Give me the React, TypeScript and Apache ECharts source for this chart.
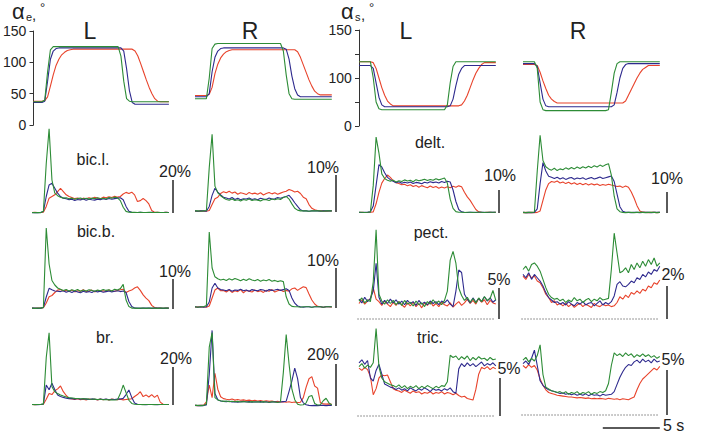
import React, { useEffect, useRef } from 'react';
import * as echarts from 'echarts';

// time samples (s) shared by every panel
const T = [0,0.25,0.5,0.75,1,1.25,1.5,1.75,2,2.25,2.5,2.75,3,3.25,3.5,3.75,4,4.25,4.5,4.75,5,5.25,5.5,5.75,6,6.25,6.5,6.75,7,7.25,7.5,7.75,8,8.25,8.5,8.75,9,9.25,9.5,9.75,10,10.25,10.5,10.75,11,11.25,11.5,11.75,12];

// ---- joint angles (deg) ----
const AE_L_RED = [38,38,38,38,39,45,62,80,95,105,112,116,119,120,
121,121,121,121,121,121,121,121,121,121,121,121,121,121,121,121,121,121,121,121,121,121,
118,110,98,85,72,60,50,42,38,37,37,37,37];
const AE_L_BLUE = [36,36,36,36,38,70,105,118,122,
123,123,123,123,123,123,123,123,123,123,123,123,123,123,123,123,123,123,123,123,123,123,123,
118,90,55,36,33,
33,33,33,33,33,33,33,33,33,33,33,33];
const AE_L_GREEN = [37,37,37,37,40,85,120,125,
125,125,125,125,125,125,125,125,125,125,125,125,125,125,125,125,125,125,125,125,125,125,125,
110,70,42,38,
37,37,37,37,37,37,37,37,37,37,37,37,37,37];
const AE_R_RED = [47,47,47,47,47,49,60,82,97,107,113,117,119,120,
120,120,120,120,120,120,120,120,120,120,120,120,120,120,120,120,120,120,120,120,120,120,
117,108,96,84,72,62,54,50,48,48,48,48,48];
const AE_R_BLUE = [45,45,45,45,45,50,85,108,118,122,
123,123,123,123,123,123,123,123,123,123,123,123,123,123,123,123,123,123,123,123,123,123,
121,105,78,58,48,45,
45,45,45,45,45,45,45,45,45,45,45];
const AE_R_GREEN = [42,42,42,42,42,75,122,129,
130,130,130,130,130,130,130,130,130,130,130,130,130,130,130,130,130,130,130,130,130,130,130,
118,80,50,42,
41,41,41,41,41,41,41,41,41,41,41,41,41,41];
const AS_L_RED = [117,117,117,117,117,116,110,100,90,82,76,73,71,
71,71,71,71,71,71,71,71,71,71,71,71,71,71,71,71,71,71,71,71,71,71,71,
72,76,82,90,98,105,110,114,116,116,116,116,116];
const AS_L_BLUE = [113,113,113,113,113,110,95,80,72,70,
70,70,70,70,70,70,70,70,70,70,70,70,70,70,70,70,70,70,70,70,70,70,
71,78,92,104,110,113,
113,113,113,113,113,113,113,113,113,113,113];
const AS_L_GREEN = [117,117,117,117,117,100,75,68,
67,67,67,67,67,67,67,67,67,67,67,67,67,67,67,67,67,67,67,67,67,67,67,
72,95,112,117,
117,117,117,117,117,117,117,117,117,117,117,117,117,117];
const AS_R_RED = [114,114,114,114,114,113,106,97,89,82,78,75.5,74,
74,74,74,74,74,74,74,74,74,74,74,74,74,74,74,74,74,74,74,74,74,74,74,
76,82,88,94,100,105,109,111,113,113,113,113,113];
const AS_R_BLUE = [115,115,115,115,115,112,95,78,71,70,
70,70,70,70,70,70,70,70,70,70,70,70,70,70,70,70,70,70,70,70,70,70,
72,85,100,110,114,115,
115,115,115,115,115,115,115,115,115,115,115];
const AS_R_GREEN = [117,117,117,117,117,110,75,67,
66,66,66,66,66,66,66,66,66,66,66,66,66,66,66,66,66,66,66,66,66,66,
67,85,105,115,117,
117,117,117,117,117,117,117,117,117,117,117,117,117,117];

// ---- EMG (%) ----
const BICL_L_RED = [0.3,0.4,0.3,0.3,0.5,4,9,10,11,13,15,13,11,10,
9.4,8.7,9.1,8.3,9.0,8.6,9.3,8.8,9.5,9.0,8.7,9.6,9.2,9.9,9.4,10.1,9.6,
10,11.5,12.5,11.8,12.6,11,7,7.5,8.8,7.5,5.5,1.5,
0.5,0.4,0.3,0.3,0.4,0.3];
const BICL_L_BLUE = [0.2,0.3,0.2,0.3,1,10,17,18,15,12,10,9,
8.6,8.0,8.4,7.6,8.2,7.9,8.5,7.7,8.3,8.0,7.8,8.4,8.1,8.6,8.2,8.8,8.3,8.7,9.0,
9.2,8,4,1,
0.4,0.3,0.3,0.4,0.3,0.3,0.3,0.4,0.3,0.3,0.3,0.3,0.4,0.3];
const BICL_L_GREEN = [0.3,0.2,0.3,0.2,1,30,51,20,12,10.5,9.5,9,
9.2,8.6,9.0,8.3,8.8,9.1,8.5,8.9,8.4,9.0,8.7,9.3,8.6,8.9,8.5,9.4,9.0,9.6,9.2,
7.5,3.5,1,
0.5,0.4,0.4,0.3,0.4,0.3,0.3,0.4,0.3,0.3,0.4,0.3,0.3,0.3,0.3];
const BICL_R_RED = [0.2,0.2,0.3,0.2,0.2,0.4,2,3.6,4,5,5.5,5.2,5.6,
5.1,5.4,4.8,5.2,5.0,4.7,5.3,4.9,5.1,4.8,5.2,4.6,5.0,5.3,4.9,5.2,4.8,5.1,5.4,
5.6,6.1,5.8,5.4,5.6,5.0,4.0,3.6,2.0,1.0,0.6,
0.4,0.3,0.3,0.2,0.3,0.3];
const BICL_R_BLUE = [0.3,0.2,0.3,0.3,0.2,1.5,4.5,6.4,5.4,4.6,4.0,
3.8,3.5,3.9,3.4,3.7,3.3,3.6,3.5,3.8,3.4,3.6,3.3,3.7,3.5,3.4,3.8,3.5,3.6,3.9,3.7,4.0,
4.2,4.5,3.6,2.5,1.5,0.6,
0.3,0.3,0.2,0.3,0.3,0.3,0.2,0.3,0.3,0.3,0.3];
const BICL_R_GREEN = [0.3,0.3,0.2,0.3,0.4,12,21,7,5.2,4.4,3.8,
3.4,3.2,3.5,3.1,3.3,3.0,3.4,3.2,3.5,3.1,3.3,3.2,3.0,3.4,3.3,3.1,3.5,3.3,3.6,3.4,
3.9,4.2,3.5,2.2,1.0,0.5,
0.3,0.3,0.3,0.2,0.3,0.3,0.3,0.3,0.2,0.3,0.3,0.3];
const DELT_L_RED = [0.2,0.3,0.2,0.2,0.3,0.5,4,9,13,15,16.5,15.5,14,13.2,12.8,12.3,12.5,
11.8,12.3,11.5,12.0,11.2,11.9,11.4,11.0,11.7,11.1,11.5,10.8,11.3,10.9,
11.4,11.0,11.6,11.2,11.8,11.4,9,7,5.5,3.5,1.5,0.5,
0.3,0.2,0.3,0.3,0.2,0.3];
const DELT_L_BLUE = [0.3,0.2,0.3,0.3,0.5,3,12,21,20,17.5,15.5,14.5,
13.8,13.2,13.6,12.9,13.4,13.0,13.5,12.8,13.3,13.1,12.7,13.4,13.0,13.6,13.2,13.5,13.0,13.7,13.3,13.8,
13.5,10,5,1.5,0.5,
0.3,0.2,0.3,0.3,0.2,0.3,0.3,0.3,0.2,0.3,0.3,0.3];
const DELT_L_GREEN = [0.3,0.3,0.2,0.3,0.5,12,33,26,17,15,14.2,
13.8,14.3,13.5,14.0,13.7,14.4,13.9,14.2,13.6,14.5,14.0,14.3,14.7,14.1,14.6,14.2,14.9,14.4,14.8,
15.2,13,6,2,0.6,
0.3,0.3,0.2,0.3,0.3,0.2,0.3,0.3,0.3,0.2,0.3,0.3,0.3,0.3];
const DELT_R_RED = [0.2,0.3,0.2,0.3,0.2,0.3,1,6,11,14,15,14.6,
15.2,14.3,14.8,14.0,14.6,13.8,14.4,13.6,14.2,13.5,14.1,13.3,13.9,13.4,13.8,13.1,13.6,13.2,13.7,13.3,13.0,
12.6,12.8,12.2,12.9,12.3,10,7,3.5,1,
0.4,0.3,0.2,0.3,0.3,0.2,0.3];
const DELT_R_BLUE = [0.3,0.2,0.3,0.2,0.3,2,14,24,20,17.5,17,
16.4,17.0,16.2,16.8,16.0,16.6,16.9,16.1,16.7,16.3,16.8,16.0,16.5,16.9,16.2,16.6,17.1,16.4,16.8,17.2,
17.6,15,9,3,0.8,
0.3,0.3,0.2,0.3,0.3,0.2,0.3,0.3,0.3,0.2,0.3,0.3,0.3];
const DELT_R_GREEN = [0.3,0.2,0.3,0.3,0.5,20,37,25,22,21,
20.4,21.3,20.2,21.0,20.6,21.5,20.8,21.7,21.0,21.9,21.2,22.0,21.4,22.3,21.6,22.5,21.9,22.8,22.2,23.0,
23.5,18,8,2,0.6,
0.3,0.2,0.3,0.3,0.2,0.3,0.3,0.3,0.2,0.3,0.3,0.3,0.2,0.3];
const BICB_L_RED = [0.3,0.2,0.3,0.3,0.4,2,4.1,4.5,5.5,6.3,6.5,6.0,
6.2,5.8,6.3,5.7,6.1,5.9,6.4,5.8,6.0,6.3,5.7,6.2,5.9,6.1,5.8,6.3,6.0,5.9,6.2,6.4,
6.6,5.5,6.0,6.3,7.0,7.4,6.2,4.7,3.6,2.8,1.2,0.5,
0.3,0.3,0.2,0.3,0.3];
const BICB_L_BLUE = [0.3,0.3,0.2,0.3,0.5,4,6.9,6.4,6.0,5.9,
5.8,6.1,5.6,5.9,5.5,6.0,5.7,5.4,5.9,5.6,5.8,5.5,6.0,5.7,5.9,5.6,5.8,6.0,5.7,5.9,6.1,5.8,6.0,
5.5,2.5,0.8,
0.3,0.3,0.2,0.3,0.3,0.3,0.2,0.3,0.3,0.3,0.2,0.3,0.3];
const BICB_L_GREEN = [0.3,0.2,0.3,0.3,0.5,27,15,9.5,8,7,
6.6,6.2,6.5,6.0,6.4,6.1,6.5,5.9,6.3,6.0,6.4,6.2,5.9,6.3,6.1,6.5,6.2,6.4,6.0,6.6,6.3,
6.8,8.2,3,0.8,
0.3,0.3,0.2,0.3,0.3,0.2,0.3,0.3,0.3,0.2,0.3,0.3,0.3,0.3];
const BICB_R_RED = [0.2,0.3,0.2,0.3,0.2,0.5,2.5,4.5,5,4.3,
4.4,4.0,4.5,3.9,4.3,4.1,4.6,3.8,4.4,4.2,4.0,4.5,4.1,4.3,3.9,4.4,4.2,4.6,4.0,4.3,4.5,4.1,4.4,4.2,
4.8,5.0,4.4,4.9,5.3,5.1,3.5,2.0,1.0,0.4,
0.3,0.2,0.3,0.3,0.2];
const BICB_R_BLUE = [0.3,0.2,0.3,0.2,0.3,1.5,5,6.2,5.0,4.6,
4.5,4.3,4.6,4.2,4.5,4.4,4.7,4.3,4.5,4.2,4.6,4.4,4.3,4.6,4.5,4.2,4.6,4.4,4.5,4.7,4.4,4.6,4.8,
4.4,2.5,1.2,0.5,
0.3,0.2,0.3,0.3,0.2,0.3,0.3,0.3,0.2,0.3,0.3,0.3];
const BICB_R_GREEN = [0.3,0.2,0.3,0.3,0.6,19,10,7.8,
7.3,7.0,7.2,6.9,7.3,7.0,7.4,7.1,6.8,7.2,6.9,7.3,7.0,6.8,7.1,6.7,7.0,6.8,7.1,6.7,6.9,6.6,6.8,
6.6,2.8,1.0,0.4,
0.3,0.3,0.2,0.3,0.3,0.3,0.2,0.3,0.3,0.3,0.2,0.3,0.3,0.3];
const PECT_L_RED = [2.5,3.1,2.4,2.9,3.3,5.0,3.2,
2.8,2.2,2.9,2.4,2.0,2.7,2.2,
2.8,2.3,1.9,2.6,2.1,2.7,2.0,
2.5,1.8,2.6,2.2,2.8,2.1,2.5,
2.0,2.7,2.3,2.1,2.6,1.9,2.4,
2.8,2.2,2.6,3.2,2.5,3.0,2.4,
3.3,2.7,3.1,2.3,3.0,2.6,2.4];
const PECT_L_BLUE = [3.2,2.6,3.5,2.8,3.3,4.5,9.0,
3.5,2.4,3.0,2.5,3.2,2.6,3.1,
2.4,2.9,2.3,3.0,2.5,2.8,2.2,
3.0,2.4,2.7,2.3,2.9,2.5,2.8,
2.3,2.9,2.6,3.1,2.4,2.0,4.5,
7.9,7.5,4.0,3.2,2.6,3.4,2.7,
3.3,2.8,3.6,2.9,3.4,2.7,3.1];
const PECT_L_GREEN = [2.9,3.4,2.6,3.1,2.8,6.0,14.4,
4.0,2.9,2.4,3.1,2.5,3.0,2.3,
2.8,2.2,3.0,2.4,2.7,2.1,2.9,
2.3,2.6,2.0,2.8,2.4,3.1,2.5,
2.9,2.3,3.0,4.5,9.5,10.9,9.0,
5.0,3.8,3.0,3.5,2.7,3.3,2.6,
3.4,2.8,3.6,3.0,3.3,4.6,3.0];
const PECT_R_RED = [2.6,2.4,2.7,2.5,2.6,2.3,2.2,
1.9,1.5,1.3,1.0,1.1,0.85,0.95,
0.8,0.95,0.75,0.9,0.7,0.85,0.95,
0.75,0.9,0.8,0.7,0.95,0.8,0.75,
0.9,0.8,0.85,0.75,0.8,1.0,1.35,
1.2,1.45,1.3,1.6,1.5,1.7,1.55,
1.8,1.7,2.0,1.9,2.2,2.1,2.36];
const PECT_R_BLUE = [2.7,2.5,2.8,2.4,2.7,2.5,2.3,
2.0,1.6,1.3,1.15,1.0,1.05,0.9,
1.0,0.85,1.05,0.9,0.8,1.0,0.9,
1.05,0.85,0.95,1.0,0.8,0.95,1.1,
0.85,1.0,0.9,1.05,1.4,2.1,2.26,
2.0,1.95,2.1,2.3,2.2,2.5,2.4,
2.7,2.55,2.85,2.7,3.0,2.9,3.2];
const PECT_R_GREEN = [3.0,3.2,2.9,3.3,3.4,3.2,2.9,
2.4,1.9,1.5,1.3,1.2,1.25,1.1,
1.2,1.0,1.15,1.05,1.3,1.1,1.2,
1.0,1.15,1.25,1.05,1.2,1.1,1.3,
1.15,1.2,1.25,3.0,5.2,4.0,2.8,
2.9,3.1,2.8,3.3,3.0,3.4,3.1,
3.5,3.2,3.6,3.3,3.7,3.2,3.4];
const BR_L_RED = [0.3,0.2,0.3,0.3,0.4,3,6.1,5.5,7.5,8.5,10,7,5,3.5,
3.2,2.9,3.3,2.8,3.1,2.7,3.2,2.9,3.0,2.7,3.1,2.8,3.0,2.6,3.1,2.9,2.8,3.0,2.7,2.9,3.1,3.3,
4.5,5.5,7,4.4,5.3,4.2,5.5,4.0,5.2,1.5,
0.4,0.3,0.3];
const BR_L_BLUE = [0.3,0.3,0.2,0.3,0.5,10.5,8,11.4,8,5.3,4.5,4,
3.6,3.3,3.5,3.1,3.4,3.0,3.3,3.1,2.9,3.2,3.0,2.8,3.1,2.9,3.2,2.8,3.0,2.9,3.1,3.2,3.5,
5.5,7.9,4.0,1.0,
0.4,0.3,0.3,0.2,0.3,0.3,0.3,0.2,0.3,0.3,0.3,0.3];
const BR_L_GREEN = [0.3,0.2,0.3,0.3,0.6,25,38,9.6,7,6,5.3,4.7,
4.2,3.9,3.7,3.5,3.4,3.3,3.2,3.3,3.1,3.0,3.1,2.9,3.0,2.8,2.9,2.7,2.8,2.6,2.8,
6,10.5,6.5,2.5,0.8,
0.4,0.3,0.3,0.2,0.3,0.3,0.3,0.2,0.3,0.3,0.3,0.3,0.3];
const BR_R_RED = [0.3,0.2,0.3,0.3,2,10,4,15.6,8,4.4,3.5,
3.2,3.0,3.3,2.8,3.1,2.7,2.9,2.6,2.8,2.5,2.7,2.4,2.6,2.3,2.5,2.2,2.4,2.0,2.2,1.9,2.1,1.8,2.0,1.7,1.9,1.6,
1.8,4,9,13,14,9.5,8.5,1.5,
1.0,0.9,1.0,0.8];
const BR_R_BLUE = [0.3,0.2,0.3,0.2,0.5,15,36,6,3,
2.4,2.2,2.0,2.3,1.9,2.1,1.8,2.0,2.2,1.9,2.1,1.8,2.0,1.9,2.1,1.8,2.0,1.7,1.9,2.0,1.8,1.9,2.1,
2.3,7,12,18,13,4,1.5,0.6,
0.3,0.2,0.3,0.2,0.3,0.3,0.2,0.3,0.3];
const BR_R_GREEN = [0.3,0.3,0.2,0.3,1,28,35,4,2.9,
2.5,2.2,2.4,2.1,2.3,2.0,2.2,1.9,2.1,2.0,1.8,2.1,1.9,2.0,1.8,2.1,1.9,1.8,2.0,1.9,1.7,2.0,
16,34,20,8,3,0.8,0.5,0.6,1.5,4.5,5,1.2,0.5,0.6,2.5,3.7,1.5,0.5];
const TRIC_L_RED = [6.3,6.0,6.4,6.1,5.2,2.8,3.6,
5.0,5.4,5.3,5.4,4.5,3.6,3.4,
3.3,3.1,3.4,3.2,3.0,3.3,3.1,
3.2,2.9,3.1,3.0,3.2,2.9,3.1,
3.0,3.2,2.9,3.1,3.0,2.8,3.0,
2.7,2.5,2.6,2.3,2.2,2.1,3.5,
5.5,6.4,6.2,6.5,6.1,6.4,6.2];
const TRIC_L_BLUE = [7.0,7.4,6.8,7.3,5.0,4.6,6.0,
6.8,5.5,4.2,4.0,3.8,3.7,3.5,
3.7,3.4,3.6,3.3,3.7,3.5,3.3,
3.6,3.4,3.7,3.5,3.2,3.6,3.4,
3.5,3.3,3.6,3.4,3.7,3.2,3.0,
6.2,6.9,6.5,7.0,6.6,6.9,6.5,
6.8,7.1,6.6,6.9,6.7,7.0,6.6];
const TRIC_L_GREEN = [6.5,6.9,6.3,6.7,6.4,7.0,11.5,
6.5,5.0,4.5,4.3,4.1,4.0,3.8,
4.1,3.7,4.0,3.6,3.9,3.7,4.0,
3.6,3.9,3.7,4.0,3.8,3.6,3.9,
3.7,4.0,3.9,4.5,8.0,7.7,7.9,
7.4,7.8,7.5,7.9,7.3,7.7,7.4,
7.8,7.5,7.6,7.3,7.7,7.4,7.5];
const TRIC_R_RED = [5.5,5.2,5.6,5.3,5.5,5.0,4.0,
3.3,2.8,2.5,2.4,2.3,2.2,2.15,
2.1,2.05,2.0,2.0,1.95,1.9,1.95,
1.9,1.85,1.9,1.8,1.85,1.8,1.85,
1.8,1.75,1.85,1.8,1.75,1.8,1.7,
1.8,1.75,1.7,1.85,2.0,2.8,3.5,
4.0,4.3,4.6,4.9,5.2,5.0,5.4];
const TRIC_R_BLUE = [5.7,6.0,5.6,6.3,7.2,5.5,3.8,
3.3,3.0,2.8,2.7,2.6,2.5,2.4,
2.45,2.3,2.4,2.25,2.35,2.2,2.3,
2.2,2.35,2.15,2.3,2.2,2.25,2.1,
2.3,2.2,2.25,2.3,2.6,3.4,4.2,
4.8,5.3,5.6,5.5,5.9,6.1,5.8,
6.2,5.9,6.1,5.8,6.2,5.9,6.0];
const TRIC_R_GREEN = [6.1,6.4,5.9,6.3,6.0,6.6,7.8,
4.5,3.1,2.9,2.7,2.6,2.5,2.6,
2.4,2.6,2.3,2.5,2.4,2.6,2.3,
2.5,2.4,2.6,2.3,2.5,2.4,2.6,
2.5,2.7,3.5,5.5,6.9,6.6,6.8,
6.5,6.9,6.6,6.8,6.4,6.7,6.5,
6.8,6.5,6.7,6.4,6.6,6.3,6.5];

// scale-bar sizes (%) and their labels
const BAR_SIZES = [20, 10, 10, 10, 10, 10, 5, 2, 20, 20, 5, 5];
const BAR_LABELS = ['20%', '10%', '10%', '10%', '10%', '10%', '5%', '2%', '20%', '20%', '5%', '5%'];
const MUSCLES = ['bic.l.', 'delt.', 'bic.b.', 'pect.', 'br.', 'tric.'];
const AE_TICKS = [0, 50, 100, 150];
const AS_TICK_LABELS: Record<number, string> = { 150: '150', 100: '100', 50: '0' };
const TIME_BAR_S = 5;

// ---- styling / layout ----
const FONT = '"Liberation Sans", Arial, Helvetica, sans-serif';
const COLORS = ['#e8432b', '#2e2a8e', '#2d8c36'];
const BAR_COLOR = '#5a5a5a';
const TEXT_COLOR = '#222';
const PX_PER_S = 11.4;
const X_MIN = -0.1;
const X_MAX = 12.8;
const COL_X0 = [32, 195, 359, 523];
const ABOVE = 100;
const BELOW = 16;

type Angle = { yMin: number; yMax: number; bottomPx: number; topPx: number; axis?: 'e' | 's' };
type Emg = { base: number; ppu: number; barT: number; dotted?: boolean };
type PanelDef = { col: number; traces: number[][]; angle?: Angle; emg?: Emg };

const PANELS: PanelDef[] = [
  { col: 0, traces: [AE_L_RED, AE_L_BLUE, AE_L_GREEN], angle: { yMin: 0, yMax: 150, bottomPx: 125, topPx: 31, axis: 'e' } },
  { col: 1, traces: [AE_R_RED, AE_R_BLUE, AE_R_GREEN], angle: { yMin: 0, yMax: 150, bottomPx: 125, topPx: 31 } },
  { col: 2, traces: [AS_L_RED, AS_L_BLUE, AS_L_GREEN], angle: { yMin: 50, yMax: 150, bottomPx: 126, topPx: 30, axis: 's' } },
  { col: 3, traces: [AS_R_RED, AS_R_BLUE, AS_R_GREEN], angle: { yMin: 50, yMax: 150, bottomPx: 126, topPx: 30 } },
  { col: 0, traces: [BICL_L_RED, BICL_L_BLUE, BICL_L_GREEN], emg: { base: 213, ppu: 1.65, barT: 12.37 } },
  { col: 1, traces: [BICL_R_RED, BICL_R_BLUE, BICL_R_GREEN], emg: { base: 212, ppu: 3.7, barT: 12.37 } },
  { col: 2, traces: [DELT_L_RED, DELT_L_BLUE, DELT_L_GREEN], emg: { base: 213, ppu: 2.3, barT: 12.28 } },
  { col: 3, traces: [DELT_R_RED, DELT_R_BLUE, DELT_R_GREEN], emg: { base: 213, ppu: 2.1, barT: 12.63 } },
  { col: 0, traces: [BICB_L_RED, BICB_L_BLUE, BICB_L_GREEN], emg: { base: 309, ppu: 3.0, barT: 12.37 } },
  { col: 1, traces: [BICB_R_RED, BICB_R_BLUE, BICB_R_GREEN], emg: { base: 308, ppu: 4.0, barT: 12.37 } },
  { col: 2, traces: [PECT_L_RED, PECT_L_BLUE, PECT_L_GREEN], emg: { base: 319, ppu: 6.2, barT: 12.28, dotted: true } },
  { col: 3, traces: [PECT_R_RED, PECT_R_BLUE, PECT_R_GREEN], emg: { base: 319, ppu: 16.5, barT: 12.63, dotted: true } },
  { col: 0, traces: [BR_L_RED, BR_L_BLUE, BR_L_GREEN], emg: { base: 405, ppu: 1.9, barT: 12.37 } },
  { col: 1, traces: [BR_R_RED, BR_R_BLUE, BR_R_GREEN], emg: { base: 406, ppu: 2.1, barT: 12.37 } },
  { col: 2, traces: [TRIC_L_RED, TRIC_L_BLUE, TRIC_L_GREEN], emg: { base: 416, ppu: 7.6, barT: 12.37, dotted: true } },
  { col: 3, traces: [TRIC_R_RED, TRIC_R_BLUE, TRIC_R_GREEN], emg: { base: 415, ppu: 9.0, barT: 12.63, dotted: true } },
];

// annotation positions (px)
const BAR_LABEL_POS = [[175, 171], [323, 167], [500, 175], [667, 178], [175, 271], [323, 260], [499, 279], [673, 274], [176, 358], [323, 354], [509, 368], [673, 359]];
const MUSCLE_POS = [[93, 159], [430, 142], [96, 231], [431, 232], [105, 337], [430, 337]];
const HEADERS = [['L', 90, 31], ['R', 250, 31], ['L', 406, 31], ['R', 578, 31]];

function txt(text: string, x: number, y: number, size: number, align = 'center', vAlign = 'middle') {
  return {
    type: 'text', x, y, silent: true,
    style: { text, fontSize: size, fontFamily: FONT, fill: TEXT_COLOR, align, verticalAlign: vAlign, textAlign: align, textVerticalAlign: vAlign },
  };
}

function buildOption() {
  const grid: any[] = [];
  const xAxis: any[] = [];
  const yAxis: any[] = [];
  const series: any[] = [];
  const graphic: any[] = [];
  const bad: string[] = [];

  PANELS.forEach((p, gi) => {
    const left = COL_X0[p.col] + X_MIN * PX_PER_S;
    const width = (X_MAX - X_MIN) * PX_PER_S;
    let top: number, height: number, yMin: number, yMax: number;
    if (p.angle) {
      top = p.angle.topPx; height = p.angle.bottomPx - p.angle.topPx; yMin = p.angle.yMin; yMax = p.angle.yMax;
    } else {
      const e = p.emg!;
      top = e.base - ABOVE; height = ABOVE + BELOW; yMin = -BELOW / e.ppu; yMax = ABOVE / e.ppu;
    }
    grid.push({ left, top, width, height });
    xAxis.push({ type: 'value', gridIndex: gi, min: X_MIN, max: X_MAX, show: false });
    if (p.angle && p.angle.axis) {
      const isE = p.angle.axis === 'e';
      yAxis.push({
        type: 'value', gridIndex: gi, min: yMin, max: yMax, interval: isE ? AE_TICKS[1] - AE_TICKS[0] : 25,
        axisLine: { show: true, lineStyle: { color: '#333', width: 1 } },
        axisTick: { show: true, inside: false, length: 4, lineStyle: { color: '#333', width: 1 } },
        axisLabel: {
          show: true, margin: 6, fontSize: 14, fontFamily: FONT, color: TEXT_COLOR,
          formatter: isE ? (v: number) => String(v) : (v: number) => AS_TICK_LABELS[v] ?? '',
        },
        splitLine: { show: false },
      });
    } else {
      yAxis.push({ type: 'value', gridIndex: gi, min: yMin, max: yMax, show: false });
    }
    p.traces.forEach((vals, k) => {
      if (vals.length !== T.length) bad.push(`panel ${gi} trace ${k}: ${vals.length}`);
      series.push({
        type: 'line', xAxisIndex: gi, yAxisIndex: gi, silent: true, clip: false,
        showSymbol: false, symbol: 'none', z: 3 + k,
        lineStyle: { color: COLORS[k], width: 1.1 },
        data: T.map((t, i) => [t, vals[i]]),
      });
    });
    if (p.emg) {
      const bi = gi - 4;
      series.push({
        type: 'line', xAxisIndex: gi, yAxisIndex: gi, silent: true, clip: false, symbol: 'none', z: 2,
        lineStyle: { color: BAR_COLOR, width: 2 },
        data: [[p.emg.barT, 0], [p.emg.barT, BAR_SIZES[bi]]],
      });
      graphic.push(txt(BAR_LABELS[bi], BAR_LABEL_POS[bi][0], BAR_LABEL_POS[bi][1], 16));
      if (p.emg.dotted) {
        series.push({
          type: 'line', xAxisIndex: gi, yAxisIndex: gi, silent: true, clip: false, symbol: 'none', z: 1,
          lineStyle: { color: '#777', width: 1, type: [1.5, 1.5] },
          data: [[-0.15, 0], [11.85, 0]],
        });
      }
    }
  });

  MUSCLES.forEach((m, i) => graphic.push(txt(m, MUSCLE_POS[i][0], MUSCLE_POS[i][1], 16)));
  HEADERS.forEach((h) => graphic.push(txt(h[0] as string, h[1] as number, h[2] as number, 23)));

  // angle axis titles
  const axT = (x0: number, sub: string) => [
    txt('α', x0, 11, 22, 'left'),
    txt(sub, x0 + 14, 17, 11, 'left'),
    txt(',', x0 + 20, 14, 15, 'left'),
    txt('°', x0 + 28, 7, 13, 'left'),
  ];
  graphic.push(...axT(12, 'e'), ...axT(341, 's'));

  // 5 s time bar (in the bottom-right panel's time scale)
  const tx0 = COL_X0[3] + 7 * PX_PER_S;
  graphic.push({
    type: 'line', silent: true,
    shape: { x1: tx0, y1: 428, x2: tx0 + TIME_BAR_S * PX_PER_S, y2: 428 },
    style: { stroke: BAR_COLOR, lineWidth: 2 },
  });
  graphic.push(txt(`${TIME_BAR_S} s`, 663, 425, 16, 'left'));

  if (bad.length) graphic.push(txt('LEN ' + bad.join('; '), 10, 435, 10, 'left'));

  return { animation: false, backgroundColor: '#ffffff', grid, xAxis, yAxis, series, graphic };
}

export default function App() {
  const ref = useRef<HTMLDivElement>(null);
  useEffect(() => {
    if (!ref.current) return;
    const chart = echarts.init(ref.current, undefined, { renderer: 'svg' });
    chart.setOption(buildOption() as any);
    return () => chart.dispose();
  }, []);
  return <div ref={ref} style={{ position: 'fixed', left: 0, top: 0, width: 713, height: 444, background: '#fff' }} />;
}
